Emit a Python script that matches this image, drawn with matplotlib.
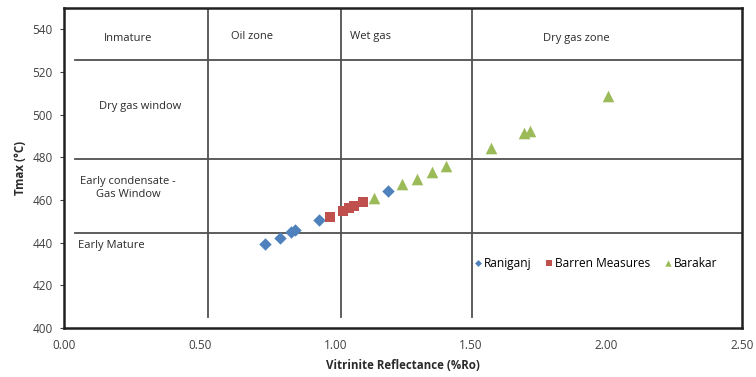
import matplotlib.pyplot as plt

plt.rcParams['font.family'] = ['Open Sans', 'DejaVu Sans']

# vitrinite reflectance (%Ro) vs Tmax (°C) per formation
raniganj_ro = [0.74, 0.795, 0.835, 0.851, 0.94, 1.196]
raniganj_tmax = [439.3, 442.1, 444.8, 445.7, 450.4, 464.0]

barren_ro = [0.98, 1.03, 1.05, 1.07, 1.104]
barren_tmax = [451.8, 455.0, 456.0, 457.0, 459.0]

barakar_ro = [1.143, 1.247, 1.302, 1.355, 1.41, 1.573, 1.696, 1.718, 2.004]
barakar_tmax = [460.9, 467.5, 469.9, 472.9, 476.1, 484.5, 491.5, 492.5, 508.5]

# maturity zone boundaries
zone_ro = [0.53, 1.02, 1.505]
zone_tmax = [444.5, 479.2, 525.7]

fig = plt.figure(figsize=(7.56, 3.77), dpi=100)
ax = fig.add_axes([0.0847, 0.130, 0.897, 0.849])

line_c = '#505050'
for x in zone_ro:
    ax.plot([x, x], [405.3, 550], color=line_c, lw=1.3, zorder=1)
for y in zone_tmax:
    ax.plot([0.04, 2.5], [y, y], color=line_c, lw=1.3, zorder=1)

ax.scatter(raniganj_ro, raniganj_tmax, marker='D', s=40, color='#4F81BD',
           label='Raniganj', zorder=3, linewidths=0)
ax.scatter(barren_ro, barren_tmax, marker='s', s=60, color='#C0504D',
           label='Barren Measures', zorder=3, linewidths=0)
ax.scatter(barakar_ro, barakar_tmax, marker='^', s=70, color='#9BBB59',
           label='Barakar', zorder=3, linewidths=0)

# zone labels
tkw = dict(fontsize=8, color='#2a2a2a', ha='center', va='center')
ax.text(0.237, 535.5, 'Inmature', **tkw)
ax.text(0.694, 536.5, 'Oil zone', **tkw)
ax.text(1.13, 536.5, 'Wet gas', **tkw)
ax.text(1.887, 535.5, 'Dry gas zone', **tkw)
ax.text(0.28, 504, 'Dry gas window', **tkw)
ax.text(0.237, 465.8, 'Early condensate -\nGas Window', linespacing=1.25, **tkw)
ax.text(0.05, 438.5, 'Early Mature', fontsize=8, color='#2a2a2a',
        ha='left', va='center')

ax.set_xlim(0, 2.5)
ax.set_ylim(400, 550)
ax.set_xticks([0, 0.5, 1.0, 1.5, 2.0, 2.5])
ax.set_xticklabels(['0.00', '0.50', '1.00', '1.50', '2.00', '2.50'])
ax.set_yticks(range(400, 541, 20))
ax.tick_params(axis='both', labelsize=8.5, colors='#404040', length=3,
               width=0.8, pad=5)
ax.tick_params(axis='x', length=0, pad=8)
for s in ax.spines.values():
    s.set_linewidth(1.8)
    s.set_color('#202020')

ax.set_xlabel('Vitrinite Reflectance (%Ro)', fontsize=8.3, fontweight='bold',
              color='#2a2a2a', labelpad=5)
ax.set_ylabel('Tmax (°C)', fontsize=8.3, fontweight='bold', color='#2a2a2a',
              labelpad=4)

ax.legend(loc='center left', bbox_to_anchor=(0.594, 0.203), ncol=3,
          frameon=False, fontsize=8.6, handletextpad=0.0, columnspacing=1.0,
          markerscale=0.55, borderaxespad=0, handlelength=1.0)

fig.savefig('out.png', dpi=100)
